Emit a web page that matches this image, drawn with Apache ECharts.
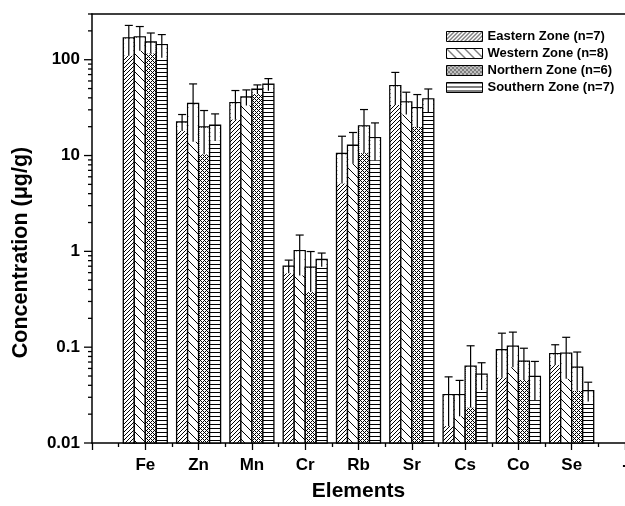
<!DOCTYPE html>
<html>
<head>
<meta charset="utf-8">
<script src="https://cdn.jsdelivr.net/npm/echarts@6/dist/echarts.min.js"></script>
<style>
  html, body { margin: 0; padding: 0; background: #fff; }
  #chart { width: 625px; height: 506px; }
</style>
</head>
<body>
<div id="chart"></div>
<script>
// axis categories (first slot empty, last one is the "-" placeholder)
var categories = ['', 'Fe', 'Zn', 'Mn', 'Cr', 'Rb', 'Sr', 'Cs', 'Co', 'Se', '-'];
var elements = ['Fe', 'Zn', 'Mn', 'Cr', 'Rb', 'Sr', 'Cs', 'Co', 'Se'];
var zoneNames = ['Eastern Zone (n=7)', 'Western Zone (n=8)', 'Northern Zone (n=6)', 'Southern Zone (n=7)'];

// mean concentrations (ug/g) and errors
var eastern = [169, 22.4, 35.7, 0.70, 10.5, 53.7, 0.032, 0.094, 0.0855];
var easternErr = [59, 4.4, 12, 0.11, 5.4, 20, 0.017, 0.046, 0.0205];
var western = [173, 34.9, 40.8, 1.02, 12.8, 36.3, 0.032, 0.1026, 0.0868];
var westernErr = [49, 21, 7.6, 0.46, 4.6, 9.5, 0.013, 0.041, 0.040];
var northern = [153, 19.9, 49.2, 0.686, 20.4, 31.6, 0.0634, 0.0715, 0.062];
var northernErr = [37, 9.6, 5.4, 0.31, 9.8, 11.7, 0.040, 0.026, 0.027];
var southern = [144, 20.7, 55.5, 0.825, 15.4, 39, 0.0523, 0.0495, 0.0351];
var southernErr = [39, 6.5, 8, 0.135, 6.5, 10.5, 0.0165, 0.0215, 0.008];

// log axis range and tick marks
var yMin = 0.01;
var yMax = 300;
var yMajorTicks = [0.01, 0.1, 1, 10, 100];
var yMinorTicks = [];
yMajorTicks.forEach(function (d) {
    for (var m = 2; m <= 9; m++) {
        if (d * m <= yMax) yMinorTicks.push(+(d * m).toPrecision(3));
    }
});

var barW = 11;
var font = "'Liberation Sans', Arial, Helvetica, sans-serif";

// small pixel tiles used as fill patterns
function makePattern(size, isInk) {
    var c = document.createElement('canvas');
    c.width = size;
    c.height = size;
    var ctx = c.getContext('2d');
    ctx.fillStyle = '#fff';
    ctx.fillRect(0, 0, size, size);
    ctx.fillStyle = '#000';
    for (var y = 0; y < size; y++) {
        for (var x = 0; x < size; x++) {
            if (isInk(x, y, size)) ctx.fillRect(x, y, 1, 1);
        }
    }
    return { image: c, repeat: 'repeat' };
}

var patterns = [
    makePattern(4, function (x, y, n) { return x === n - 1 - y; }),            // ////
    makePattern(9, function (x, y) { return x === y; }),                      // \\\\
    makePattern(4, function (x, y, n) { return x === y || x === (n - y) % n; }), // cross hatch
    makePattern(4, function (x, y) { return y === 0; })                       // ====
];

function zoneData(vals, errs) {
    return elements.map(function (el, i) {
        return [el, vals[i], errs[i]];
    });
}

function zoneRender(k) {
    return function (params, api) {
        var cat = api.value(0), v = api.value(1), e = api.value(2);
        var top = api.coord([cat, v]);
        var cx = top[0] + (k - 1.5) * barW;
        var yBase = api.coord([cat, yMin])[1];
        var yHi = api.coord([cat, v + e])[1];
        var yLo = api.coord([cat, v - e])[1];
        var x0 = cx - barW / 2;
        return {
            type: 'group',
            children: [
                { type: 'rect', shape: { x: x0, y: top[1], width: barW, height: yBase - top[1] },
                  style: { fill: patterns[k], stroke: '#000', lineWidth: 1.3 } },
                { type: 'rect', shape: { x: x0 + 0.8, y: top[1] + 0.8, width: barW - 1.6, height: Math.max(0, yLo - top[1] - 0.8) },
                  style: { fill: '#fff' } },
                { type: 'line', shape: { x1: cx, y1: yLo, x2: cx, y2: yHi },
                  style: { stroke: '#000', lineWidth: 1.2 } },
                { type: 'line', shape: { x1: cx - 4, y1: yHi, x2: cx + 4, y2: yHi },
                  style: { stroke: '#000', lineWidth: 1.2 } }
            ]
        };
    };
}

var zones = [
    zoneData(eastern, easternErr),
    zoneData(western, westernErr),
    zoneData(northern, northernErr),
    zoneData(southern, southernErr)
];

var series = zones.map(function (d, k) {
    return {
        name: zoneNames[k],
        type: 'custom',
        xAxisIndex: 1,
        yAxisIndex: 0,
        encode: { x: 0, y: 1 },
        itemStyle: { color: patterns[k], borderColor: '#000', borderWidth: 1 },
        renderItem: zoneRender(k),
        data: d
    };
});

// y axis ticks (major + 2..9 minor) drawn on the log scale
series.push({
    type: 'custom',
    xAxisIndex: 1,
    yAxisIndex: 0,
    silent: true,
    encode: { x: 0, y: 1 },
    renderItem: function (params, api) {
        var v = api.value(1);
        var p = api.coord([0, v]);
        var len = yMajorTicks.indexOf(v) >= 0 ? 8 : 4;
        return { type: 'line', shape: { x1: p[0] - len, y1: p[1], x2: p[0], y2: p[1] },
                 style: { stroke: '#000', lineWidth: 1.3 } };
    },
    data: yMajorTicks.concat(yMinorTicks).map(function (v) { return [0, v]; })
});

var chart = echarts.init(document.getElementById('chart'));
chart.setOption({
    animation: false,
    backgroundColor: '#fff',
    grid: { left: 92, right: 0, top: 14, bottom: 63, outerBoundsMode: 'none', containLabel: false },
    legend: {
        data: zoneNames,
        orient: 'vertical',
        left: 446,
        top: 30,
        padding: 0,
        icon: 'rect',
        itemWidth: 36,
        itemHeight: 10,
        itemGap: 4,
        itemStyle: { borderColor: '#000', borderWidth: 1 },
        textStyle: { fontFamily: font, fontWeight: 'bold', fontSize: 13, color: '#000', lineHeight: 13 }
    },
    xAxis: [
        {
            type: 'value',
            position: 'bottom',
            min: 0,
            max: 10,
            interval: 1,
            name: 'Elements',
            nameLocation: 'middle',
            nameGap: 38,
            nameTextStyle: { fontFamily: font, fontWeight: 'bold', fontSize: 21, color: '#000' },
            axisLine: { lineStyle: { color: '#000', width: 1.5 } },
            axisTick: { show: true, length: 7, lineStyle: { color: '#000', width: 1.3 } },
            minorTick: { show: true, splitNumber: 2, length: 4, lineStyle: { color: '#000', width: 1.3 } },
            splitLine: { show: false },
            minorSplitLine: { show: false },
            axisLabel: {
                margin: 14,
                fontFamily: font, fontWeight: 'bold', fontSize: 17, color: '#000',
                formatter: function (v) { return categories[Math.round(v)]; }
            }
        },
        {
            type: 'category',
            position: 'top',
            data: categories,
            boundaryGap: false,
            axisLine: { lineStyle: { color: '#000', width: 1.5 } },
            axisTick: { show: false },
            axisLabel: { show: false },
            splitLine: { show: false }
        }
    ],
    yAxis: {
        type: 'log',
        logBase: 10,
        min: yMin,
        max: yMax,
        name: 'Concentration (μg/g)',
        nameLocation: 'middle',
        nameGap: 60,
        nameTextStyle: { fontFamily: font, fontWeight: 'bold', fontSize: 21.5, color: '#000', padding: [0, 48, 0, 0] },
        axisLine: { show: true, lineStyle: { color: '#000', width: 1.5 } },
        axisTick: { show: false },
        splitLine: { show: false },
        axisLabel: {
            margin: 12,
            showMaxLabel: false,
            fontFamily: font, fontWeight: 'bold', fontSize: 17, color: '#000',
            formatter: function (v) { return yMajorTicks.indexOf(v) >= 0 ? String(v) : ''; }
        }
    },
    series: series
});
</script>
</body>
</html>
